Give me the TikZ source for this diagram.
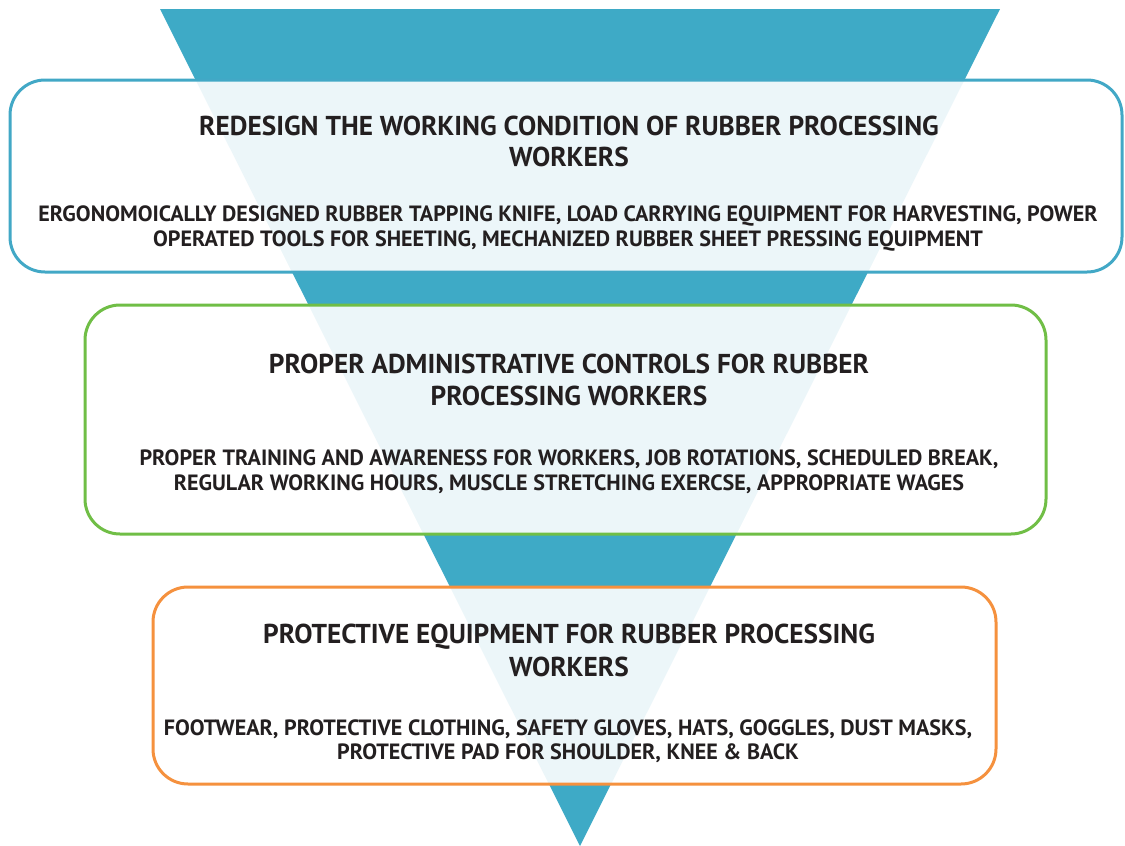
\documentclass[tikz,border=0pt]{standalone}
\usepackage{fontspec}
\setmainfont{PT Sans}
\definecolor{funnel}{RGB}{62,170,198}
\definecolor{edgeblue}{RGB}{66,168,198}
\definecolor{edgegreen}{RGB}{112,190,70}
\definecolor{edgeorange}{RGB}{245,145,62}
\definecolor{ink}{RGB}{35,31,32}
\begin{document}
\begin{tikzpicture}[x=1pt,y=-1pt,
  panel/.style={line width=3pt, rounded corners=35pt, fill=white, fill opacity=0.9, draw opacity=1},
  headline/.style={anchor=base, inner sep=0pt, text=ink, font=\fontsize{27.3}{31}\selectfont\bfseries},
  detail/.style={anchor=base, inner sep=0pt, text=ink, font=\fontsize{22.1}{26}\selectfont\bfseries}]
\useasboundingbox (0,0) rectangle (1125,846);
% inverted funnel behind the panels
\fill[funnel] (160,9) -- (1000,9) -- (580,846) -- cycle;
% panels
\draw[panel, draw=edgeblue] (10,80) rectangle (1122,272);
\draw[panel, draw=edgegreen] (85,305) rectangle (1046,534);
\draw[panel, draw=edgeorange] (153,587) rectangle (996,784);
% first tier
\node[headline] (t1a) at (569,135) {REDESIGN THE WORKING CONDITION OF RUBBER PROCESSING};
\node[headline] (t1b) at (569,166) {WORKERS};
\node[detail] (d1a) at (568,221) {ERGONOMOICALLY DESIGNED RUBBER TAPPING KNIFE, LOAD CARRYING EQUIPMENT FOR HARVESTING, POWER};
\node[detail] (d1b) at (568,246) {OPERATED TOOLS FOR SHEETING, MECHANIZED RUBBER SHEET PRESSING EQUIPMENT};
% second tier
\node[headline] (t2a) at (569,373) {PROPER ADMINISTRATIVE CONTROLS FOR RUBBER};
\node[headline] (t2b) at (569,405) {PROCESSING WORKERS};
\node[detail] (d2a) at (569,465) {PROPER TRAINING AND AWARENESS FOR WORKERS, JOB ROTATIONS, SCHEDULED BREAK,};
\node[detail] (d2b) at (569,490) {REGULAR WORKING HOURS, MUSCLE STRETCHING EXERCSE, APPROPRIATE WAGES};
% third tier
\node[headline] (t3a) at (569,643) {PROTECTIVE EQUIPMENT FOR RUBBER PROCESSING};
\node[headline] (t3b) at (569,676) {WORKERS};
\node[detail] (d3a) at (568,735) {FOOTWEAR, PROTECTIVE CLOTHING, SAFETY GLOVES, HATS, GOGGLES, DUST MASKS,};
\node[detail] (d3b) at (568,759) {PROTECTIVE PAD FOR SHOULDER, KNEE \& BACK};
\end{tikzpicture}
\end{document}
